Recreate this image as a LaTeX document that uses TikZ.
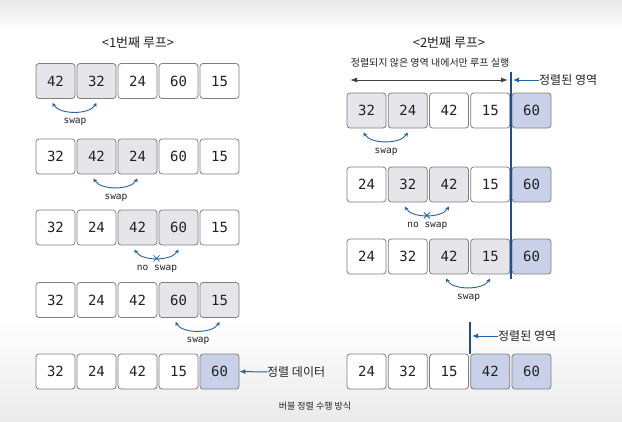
\documentclass[tikz,border=0pt]{standalone}
\usepackage{fontspec}
\setmainfont{Noto Sans CJK KR}
\newfontfamily\numfont{DejaVu Sans Mono}
\usetikzlibrary{arrows.meta,calc}
\definecolor{boxgray}{HTML}{E6E6EA}
\definecolor{boxblue}{HTML}{C9D1EA}
\definecolor{edgegray}{HTML}{7F7F7F}
\definecolor{myblue}{HTML}{2463A6}
\definecolor{linblue}{HTML}{1F4F8F}
\definecolor{txt}{HTML}{222222}
\begin{document}
\begin{tikzpicture}[x=1pt,y=-1pt,
  box/.style={draw=edgegray, line width=0.8pt, rounded corners=3pt,
    minimum width=39pt, minimum height=35pt, inner sep=0pt,
    font=\numfont\fontsize{14}{14}\selectfont, text=txt},
  fw/.style={fill=white}, fg/.style={fill=boxgray}, fb/.style={fill=boxblue},
  swaparc/.style={draw=myblue, line width=0.9pt,
    {Stealth[length=4pt,width=4pt]}-{Stealth[length=4pt,width=4pt]}},
  swaplbl/.style={font=\numfont\fontsize{9.5}{10}\selectfont, text=txt, inner sep=0pt},
  title/.style={font=\fontsize{13}{14}\selectfont, text=txt, inner sep=0pt},
  note/.style={font=\fontsize{12}{13}\selectfont, text=txt, inner sep=0pt},
  bluearrow/.style={draw=myblue, line width=1pt, -{Latex[length=6pt,width=5pt]}},
  sepline/.style={draw=linblue, line width=1.2pt},
  crossmark/.style={draw=myblue, line width=0.8pt}
]
\path[use as bounding box, fill=white] (0,0) rectangle (622,421);
\shade[top color=black!9, bottom color=white] (0,0) rectangle (622,30);
\shade[top color=white, bottom color=black!8] (0,320) rectangle (622,421);

% titles
\node[title] (t1) at (138,43) {<1번째 루프>};
\node[title] (t2) at (449,43) {<2번째 루프>};

% left rows
\foreach \v/\f [count=\i] in {42/fg,32/fg,24/fw,60/fw,15/fw}
  \node[box,\f] (L1-\i) at ({55.5+41*(\i-1)},81) {\v};
\foreach \v/\f [count=\i] in {32/fw,42/fg,24/fg,60/fw,15/fw}
  \node[box,\f] (L2-\i) at ({55.5+41*(\i-1)},156.5) {\v};
\foreach \v/\f [count=\i] in {32/fw,24/fw,42/fg,60/fg,15/fw}
  \node[box,\f] (L3-\i) at ({55.5+41*(\i-1)},227.5) {\v};
\foreach \v/\f [count=\i] in {32/fw,24/fw,42/fw,60/fg,15/fg}
  \node[box,\f] (L4-\i) at ({55.5+41*(\i-1)},300) {\v};
\foreach \v/\f [count=\i] in {32/fw,24/fw,42/fw,15/fw,60/fb}
  \node[box,\f] (L5-\i) at ({55.5+41*(\i-1)},371.5) {\v};

% right rows
\foreach \v/\f [count=\i] in {32/fg,24/fg,42/fw,15/fw,60/fb}
  \node[box,\f] (R1-\i) at ({366.5+41.25*(\i-1)},110.5) {\v};
\foreach \v/\f [count=\i] in {24/fw,32/fg,42/fg,15/fw,60/fb}
  \node[box,\f] (R2-\i) at ({366.5+41.25*(\i-1)},184.5) {\v};
\foreach \v/\f [count=\i] in {24/fw,32/fw,42/fg,15/fg,60/fb}
  \node[box,\f] (R3-\i) at ({366.5+41.25*(\i-1)},256.5) {\v};
\foreach \v/\f [count=\i] in {24/fw,32/fw,15/fw,42/fb,60/fb}
  \node[box,\f] (R4-\i) at ({366.5+41.25*(\i-1)},371.5) {\v};

% swap arcs and labels
\foreach \r/\a/\b/\t in {L1/1/2/swap, L2/2/3/swap, L3/3/4/no swap, L4/4/5/swap,
                         R1/1/2/swap, R2/2/3/no swap, R3/3/4/swap}{
  \draw[swaparc] ($(\r-\a.south)+(-3,4)$) .. controls +(7,12) and +(-7,12) .. ($(\r-\b.south)+(0,4)$);
  \node[swaplbl] (\r-lbl) at ($(\r-\a.south)!.5!(\r-\b.south)+(-1,23)$) {\t};
}
% crosses for no swap
\coordinate (x1) at ($(L3-3.south)!.5!(L3-4.south)+(-1.5,13)$);
\coordinate (x2) at ($(R2-2.south)!.5!(R2-3.south)+(-1.5,13)$);
\foreach \c in {x1,x2}
  \draw[crossmark] (\c) +(-3,-3) -- +(3,3) (\c) +(-3,3) -- +(3,-3);

% second loop separator
\coordinate (vt) at (511,72);
\coordinate (vb) at (511,279);
\draw[sepline] (vt) -- (vb);
\node[font=\fontsize{10}{11}\selectfont, text=txt, inner sep=0pt] (range) at (430,63) {정렬되지 않은 영역 내에서만 루프 실행};
\coordinate (ra) at (350,80);
\coordinate (rb) at (508,80);
\draw[draw=black!75, line width=1pt, {Latex[length=7pt,width=5pt]}-{Latex[length=7pt,width=5pt]}] (ra) -- (rb);
\node[note, anchor=west] (sorted1) at (539,80) {정렬된 영역};
\draw[bluearrow] (sorted1.west) -- ++(-26,0);

% final separator
\coordinate (wt) at (470,322);
\coordinate (wb) at (470,354);
\draw[sepline] (wt) -- (wb);
\node[note, anchor=west] (sorted2) at (498,336) {정렬된 영역};
\draw[bluearrow] (sorted2.west) -- ++(-26,0);

% left final label
\node[note, anchor=west] (sdata) at (267,372) {정렬 데이터};
\draw[bluearrow] (sdata.west) -- (L5-5.east);

% caption
\node[font=\fontsize{9}{10}\selectfont, text=txt, inner sep=0pt] (cap) at (315,406) {버블 정렬 수행 방식};
\end{tikzpicture}
\end{document}
